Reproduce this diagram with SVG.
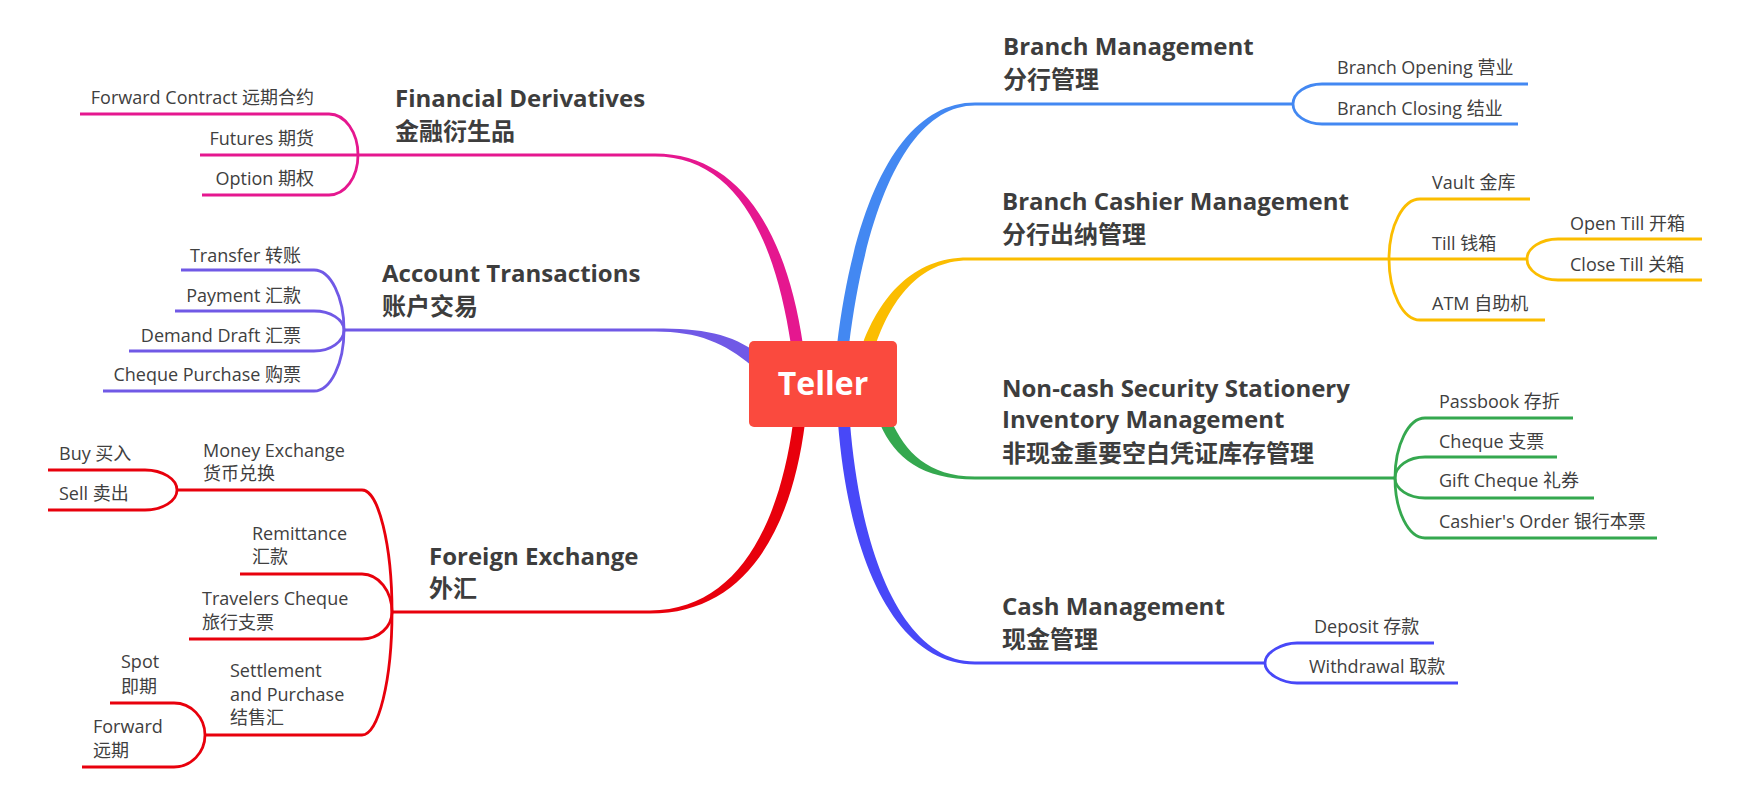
<svg xmlns="http://www.w3.org/2000/svg" width="1749" height="810" viewBox="0 0 1749 810">
<style>
.h{font-family:"Open Sans","Noto Sans CJK SC",sans-serif;font-weight:bold;font-size:24px;fill:#3D3D3D}
.s{font-family:"Open Sans","Noto Sans CJK SC",sans-serif;font-size:18px;fill:#404040}
.e{text-anchor:end}
.ln{fill:none;stroke-width:2.8;stroke-linecap:butt}
.mn{fill:none;stroke-width:3}
.pk{stroke:#E5178F}.pkf{fill:#E5178F}
.pu{stroke:#7059E6}.puf{fill:#7059E6}
.rd{stroke:#E8000C}.rdf{fill:#E8000C}
.bl{stroke:#4388F2}.blf{fill:#4388F2}
.yl{stroke:#FBBD00}.ylf{fill:#FBBD00}
.gr{stroke:#35A84F}.grf{fill:#35A84F}
.cs{stroke:#4848F8}.csf{fill:#4848F8}
</style>
<rect width="1749" height="810" fill="#FFFFFF"/>
<g id="connectors">
  <!-- tapered main connectors -->
  <path class="pkf" d="M803,345 C786,228 737,153.5 655,153.5 L655,156.5 C733,156.5 774,232 791,345 Z"/>
  <path class="puf" d="M760,355 C731,333 702,328.5 655,328.5 L655,331.5 C698,331.5 725,343 752,366 Z"/>
  <path class="rdf" d="M805,423 C791,533 744,613.5 650,613.5 L650,610.5 C736,610.5 779,527 793,423 Z"/>
  <path class="blf" d="M837,345 C856,188 906,102.5 975,102.5 L975,105.5 C914,105.5 868,192 849,345 Z"/>
  <path class="ylf" d="M863,343 C880,298 912,257.5 968,257.5 L968,260.5 C918,260.5 890,302 875,347 Z"/>
  <path class="grf" d="M891,420 C905,452 928,476.5 975,476.5 L975,479.5 C922,479.5 895,458 880,424 Z"/>
  <path class="csf" d="M850,423 C861,558 904,661.5 975,661.5 L975,664.5 C896,664.5 849,562 838,423 Z"/>
  <!-- main horizontal lines -->
  <path class="mn pk" d="M655,155 L358,155"/>
  <path class="mn pu" d="M655,330 L344,330"/>
  <path class="mn rd" d="M650,612 L392,612"/>
  <path class="mn bl" d="M975,104 L1293,104"/>
  <path class="mn yl" d="M968,259 L1389,259"/>
  <path class="mn gr" d="M975,478 L1395,478"/>
  <path class="mn cs" d="M975,663 L1265,663"/>
  <!-- Financial Derivatives children -->
  <path class="ln pk" d="M358,155 C358,132.5 345,114 329,114 L80,114"/>
  <path class="ln pk" d="M358,155 L200,155"/>
  <path class="ln pk" d="M358,155 C358,177.5 345,195 329,195 L202,195"/>
  <!-- Account Transactions children -->
  <path class="ln pu" d="M344,330 C344,297 330.5,270 314,270 L181,270"/>
  <path class="ln pu" d="M344,330 C344,319.5 330.5,311 314,311 L175,311"/>
  <path class="ln pu" d="M344,330 C344,341.5 330.5,351 314,351 L129,351"/>
  <path class="ln pu" d="M344,330 C344,363.5 330.5,391 314,391 L103,391"/>
  <!-- Foreign Exchange children -->
  <path class="ln rd" d="M392,612 C392,545 378.5,490 362,490 L177,490"/>
  <path class="ln rd" d="M392,612 C392,591 378.5,574 362,574 L240,574"/>
  <path class="ln rd" d="M392,612 C392,627 378.5,639 362,639 L189,639"/>
  <path class="ln rd" d="M392,612 C392,680 378.5,735 362,735 L205,735"/>
  <path class="ln rd" d="M177,490 C177,479 162.6,470 145,470 L48,470"/>
  <path class="ln rd" d="M177,490 C177,501 162.6,510 145,510 L48,510"/>
  <path class="ln rd" d="M205,735 C205,717.4 191,703 174,703 L110,703"/>
  <path class="ln rd" d="M205,735 C205,752.6 191,767 174,767 L82,767"/>
  <!-- Branch Management children -->
  <path class="ln bl" d="M1293,104 C1293,93 1306,84 1322,84 L1528,84"/>
  <path class="ln bl" d="M1293,104 C1293,115 1306,124 1322,124 L1518,124"/>
  <!-- Branch Cashier Management children -->
  <path class="ln yl" d="M1389,259 C1389,226 1403,199 1420,199 L1530,199"/>
  <path class="ln yl" d="M1389,259 L1527,259"/>
  <path class="ln yl" d="M1389,259 C1389,292.5 1403,320 1420,320 L1545,320"/>
  <path class="ln yl" d="M1527,259 C1527,248 1541,239 1558,239 L1702,239"/>
  <path class="ln yl" d="M1527,259 C1527,270.5 1541,280 1558,280 L1702,280"/>
  <!-- Non-cash children -->
  <path class="ln gr" d="M1395,478 C1395,445 1408.5,418 1425,418 L1573,418"/>
  <path class="ln gr" d="M1395,478 C1395,466.5 1408.5,457 1425,457 L1557,457"/>
  <path class="ln gr" d="M1395,478 C1395,489 1408.5,498 1425,498 L1594,498"/>
  <path class="ln gr" d="M1395,478 C1395,511 1408.5,538 1425,538 L1657,538"/>
  <!-- Cash Management children -->
  <path class="ln cs" d="M1265,663 C1265,652 1282.6,643 1297,643 L1434,643"/>
  <path class="ln cs" d="M1265,663 C1265,674 1282.6,683 1297,683 L1458,683"/>
</g>
<g id="teller">
  <rect x="749" y="341" width="148" height="86" rx="5" fill="#FA4A3E"/>
  <text x="823" y="395" text-anchor="middle" style="font-family:'Open Sans','Noto Sans CJK SC',sans-serif;font-weight:bold;font-size:32px;fill:#FFFFFF">Teller</text>
</g>
<g id="financial-derivatives">
  <text class="h" x="395" y="107">Financial Derivatives</text>
  <text class="h" x="395" y="140">金融衍生品</text>
</g>
<g id="forward-contract"><text class="s e" x="314" y="104">Forward Contract 远期合约</text></g>
<g id="futures"><text class="s e" x="314" y="145">Futures 期货</text></g>
<g id="option"><text class="s e" x="314" y="185">Option 期权</text></g>
<g id="account-transactions">
  <text class="h" x="382" y="282">Account Transactions</text>
  <text class="h" x="382" y="315">账户交易</text>
</g>
<g id="transfer"><text class="s e" x="301" y="262">Transfer 转账</text></g>
<g id="payment"><text class="s e" x="301" y="302">Payment 汇款</text></g>
<g id="demand-draft"><text class="s e" x="301" y="342">Demand Draft 汇票</text></g>
<g id="cheque-purchase"><text class="s e" x="301" y="381">Cheque Purchase 购票</text></g>
<g id="foreign-exchange">
  <text class="h" x="429" y="565">Foreign Exchange</text>
  <text class="h" x="429" y="597">外汇</text>
</g>
<g id="money-exchange">
  <text class="s" x="203" y="457">Money Exchange</text>
  <text class="s" x="203" y="480">货币兑换</text>
</g>
<g id="buy"><text class="s" x="59" y="460">Buy 买入</text></g>
<g id="sell"><text class="s" x="59" y="500">Sell 卖出</text></g>
<g id="remittance">
  <text class="s" x="252" y="540">Remittance</text>
  <text class="s" x="252" y="563">汇款</text>
</g>
<g id="travelers-cheque">
  <text class="s" x="202" y="605">Travelers Cheque</text>
  <text class="s" x="202" y="629">旅行支票</text>
</g>
<g id="settlement">
  <text class="s" x="230" y="677">Settlement</text>
  <text class="s" x="230" y="701">and Purchase</text>
  <text class="s" x="230" y="724">结售汇</text>
</g>
<g id="spot">
  <text class="s" x="121" y="668">Spot</text>
  <text class="s" x="121" y="693">即期</text>
</g>
<g id="forward">
  <text class="s" x="93" y="733">Forward</text>
  <text class="s" x="93" y="757">远期</text>
</g>
<g id="branch-management">
  <text class="h" x="1003" y="55">Branch Management</text>
  <text class="h" x="1003" y="88">分行管理</text>
</g>
<g id="branch-opening"><text class="s" x="1337" y="74">Branch Opening 营业</text></g>
<g id="branch-closing"><text class="s" x="1337" y="115">Branch Closing 结业</text></g>
<g id="branch-cashier-management">
  <text class="h" x="1002" y="210">Branch Cashier Management</text>
  <text class="h" x="1002" y="243">分行出纳管理</text>
</g>
<g id="vault"><text class="s" x="1432" y="189">Vault 金库</text></g>
<g id="till"><text class="s" x="1432" y="250">Till 钱箱</text></g>
<g id="atm"><text class="s" x="1432" y="310">ATM 自助机</text></g>
<g id="open-till"><text class="s" x="1570" y="230">Open Till 开箱</text></g>
<g id="close-till"><text class="s" x="1570" y="271">Close Till 关箱</text></g>
<g id="non-cash">
  <text class="h" x="1002" y="397">Non-cash Security Stationery</text>
  <text class="h" x="1002" y="428">Inventory Management</text>
  <text class="h" x="1002" y="462">非现金重要空白凭证库存管理</text>
</g>
<g id="passbook"><text class="s" x="1439" y="408">Passbook 存折</text></g>
<g id="cheque"><text class="s" x="1439" y="448">Cheque 支票</text></g>
<g id="gift-cheque"><text class="s" x="1439" y="487">Gift Cheque 礼券</text></g>
<g id="cashiers-order"><text class="s" x="1439" y="528">Cashier's Order 银行本票</text></g>
<g id="cash-management">
  <text class="h" x="1002" y="615">Cash Management</text>
  <text class="h" x="1002" y="648">现金管理</text>
</g>
<g id="deposit"><text class="s" x="1314" y="633">Deposit 存款</text></g>
<g id="withdrawal"><text class="s" x="1309" y="673">Withdrawal 取款</text></g>
</svg>
